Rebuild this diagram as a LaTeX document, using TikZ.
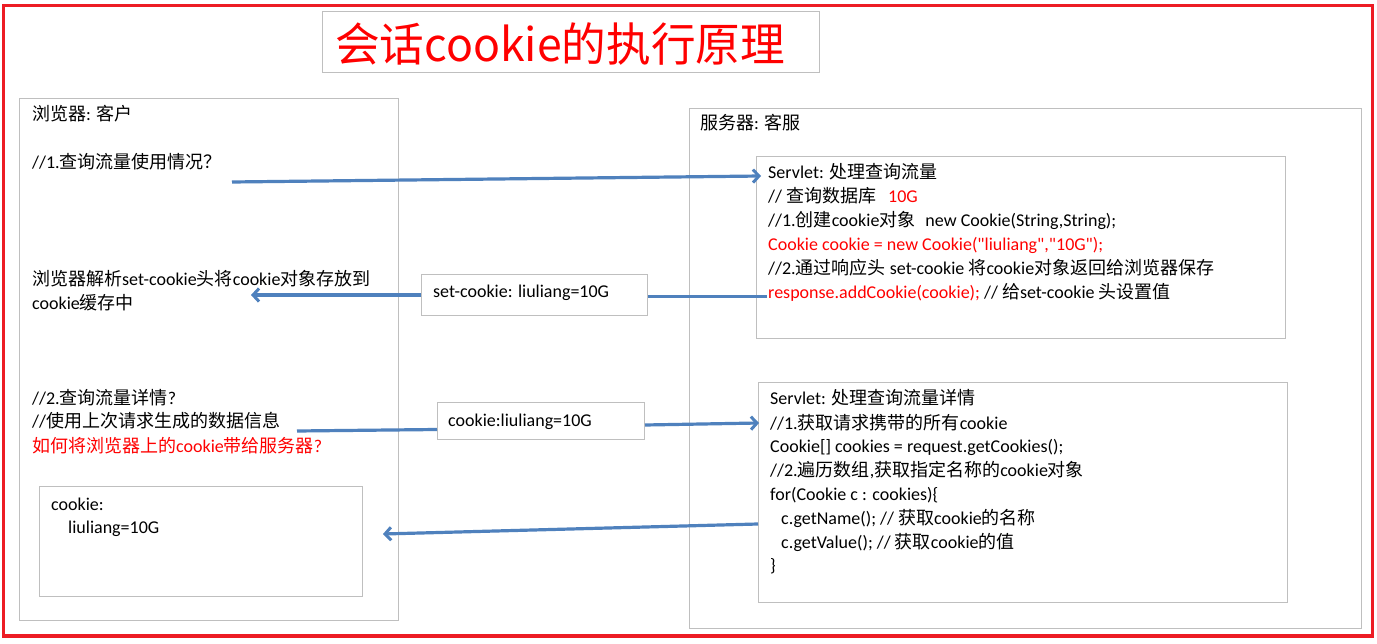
\documentclass[tikz,border=0pt]{standalone}
\usepackage{fontspec}
\usetikzlibrary{arrows.meta}
\setmainfont{Carlito}
\newfontfamily\cjkf{Noto Sans CJK SC}
\newfontfamily\latf{Carlito}
\newcount\cjkcc
\cjkcc="3000 \loop \XeTeXcharclass\cjkcc=1 \advance\cjkcc by 1 \ifnum\cjkcc<"3040 \repeat
\cjkcc="4E00 \loop \XeTeXcharclass\cjkcc=1 \advance\cjkcc by 1 \ifnum\cjkcc<"A000 \repeat
\cjkcc="FF00 \loop \XeTeXcharclass\cjkcc=1 \advance\cjkcc by 1 \ifnum\cjkcc<"FFF0 \repeat
\XeTeXinterchartokenstate=1
\XeTeXinterchartoks 0 1 {\cjkf}
\XeTeXinterchartoks 4095 1 {\cjkf}
\XeTeXinterchartoks 1 0 {\latf}
\XeTeXinterchartoks 1 4095 {\latf}
\definecolor{bordred}{HTML}{ED1C24}
\definecolor{boxgray}{HTML}{BFBFBF}
\definecolor{arrblue}{HTML}{4F81BD}
\definecolor{txtred}{HTML}{FF0000}
\tikzset{
  gbox/.style={draw=boxgray, line width=1pt, fill=white, inner sep=0pt, anchor=north west},
  txt/.style={anchor=base west, inner sep=0pt, font=\latf\fontsize{18}{24}\selectfont},
  rtxt/.style={txt, text=txtred},
  conn/.style={draw=arrblue, line width=3.2pt},
  arr/.style={conn, -{Straight Barb[length=6pt,width=13pt,line width=3pt]}},
}
\begin{document}
\begin{tikzpicture}[x=1pt,y=-1pt]
\useasboundingbox (0,0) rectangle (1377,644);
\fill[white] (0,0) rectangle (1377,644);
% outer red frame
\draw[draw=bordred, line width=3.5pt] (3.5,5.5) rectangle (1372.5,636);
% title
\node[gbox, minimum width=497pt, minimum height=61pt] (tbox) at (322,11) {};
\node[inner sep=0pt, text=txtred, font=\fontsize{46}{46}\selectfont] (title) at ([xshift=-11pt,yshift=-2pt]tbox.center) {\XeTeXinterchartokenstate=0 \cjkf\scalebox{0.97}[1]{会话cookie的执行原理}};
% big boxes
\node[gbox, minimum width=379pt, minimum height=522pt] (client) at (19,98) {};
\node[gbox, minimum width=672pt, minimum height=520pt] (server) at (689,108) {};
\node[gbox, minimum width=529pt, minimum height=182pt] (srv1) at (756,156) {};
\node[gbox, minimum width=529pt, minimum height=220pt] (srv2) at (758,382) {};
\node[gbox, minimum width=323pt, minimum height=110pt] (cbox) at (39,486) {};
% client texts
\node[txt] (ctitle) at (32,121) {浏览器: 客户};
\node[txt] (q1) at (32,169) {//1.查询流量使用情况？};
\node[txt] (p1) at (32,286) {浏览器解析set-cookie头将cookie对象存放到};
\node[txt] (p2) at (32,310) {cookie缓存中};
\node[txt] (q2a) at (32,404) {//2.查询流量详情?};
\node[txt] (q2b) at (32,428) {//使用上次请求生成的数据信息};
\node[rtxt] (q2c) at (32,453) {如何将浏览器上的cookie带给服务器?};
\node[txt] (ck1) at (51,510) {cookie:};
\node[txt] (ck2) at (68,533) {liuliang=10G};
% server texts
\node[txt] (stitle) at (700,130) {服务器: 客服};
\node[txt] (a1) at (768,179) {Servlet: 处理查询流量};
\node[txt] (a2) at (768,203) {// 查询数据库\hspace{12pt}\textcolor{txtred}{10G}};
\node[txt] (a3) at (768,227) {//1.创建cookie对象\hspace{10pt}new Cookie(String,String);};
\node[rtxt] (a4) at (768,251) {Cookie cookie = new Cookie("liuliang","10G");};
\node[txt] (a5) at (768,275) {//2.通过响应头 set-cookie 将cookie对象返回给浏览器保存};
\node[txt] (a6) at (768,299) {\textcolor{txtred}{response.addCookie(cookie);} // 给set-cookie 头设置值};
\node[txt] (b1) at (770,405) {Servlet: 处理查询流量详情};
\node[txt] (b2) at (770,429) {//1.获取请求携带的所有cookie};
\node[txt] (b3) at (770,453) {Cookie[] cookies = request.getCookies();};
\node[txt] (b4) at (770,476) {//2.遍历数组,获取指定名称的cookie对象};
\node[txt] (b5) at (770,500) {for(Cookie c : cookies)\{};
\node[txt] (b6) at (781,524) {c.getName(); // 获取cookie的名称};
\node[txt] (b7) at (781,548) {c.getValue(); // 获取cookie的值};
\node[txt] (b8) at (770,571) {\}};
% arrow 1
\coordinate (r1s) at (232,182);
\coordinate (r1e) at (761,176);
\draw[arr] (r1s) -- (r1e);
% arrow 2 with label box
\coordinate (r2s) at (767,296.5);
\coordinate (r2e) at (251,295);
\node[gbox, minimum width=226pt, minimum height=41pt] (scl) at (421,274) {};
\node[txt] (sct) at (433,298) {set-cookie: liuliang=10G};
\draw[conn] (r2s) -- (scl.east |- r2s);
\draw[arr] (scl.west |- r2e) -- (r2e);
% arrow 3 with label box
\coordinate (r3s) at (297,431);
\coordinate (r3e) at (759,423);
\node[gbox, minimum width=207pt, minimum height=37pt] (ckl) at (437,402) {};
\node[txt] (ckt) at (448,426) {cookie:liuliang=10G};
\draw[conn] (r3s) -- (ckl.west |- 0,429.5);
\draw[arr] (ckl.east |- 0,425) -- (r3e);
% arrow 4
\coordinate (r4s) at (758,524);
\coordinate (r4e) at (383,534);
\draw[arr] (r4s) -- (r4e);
\end{tikzpicture}
\end{document}
